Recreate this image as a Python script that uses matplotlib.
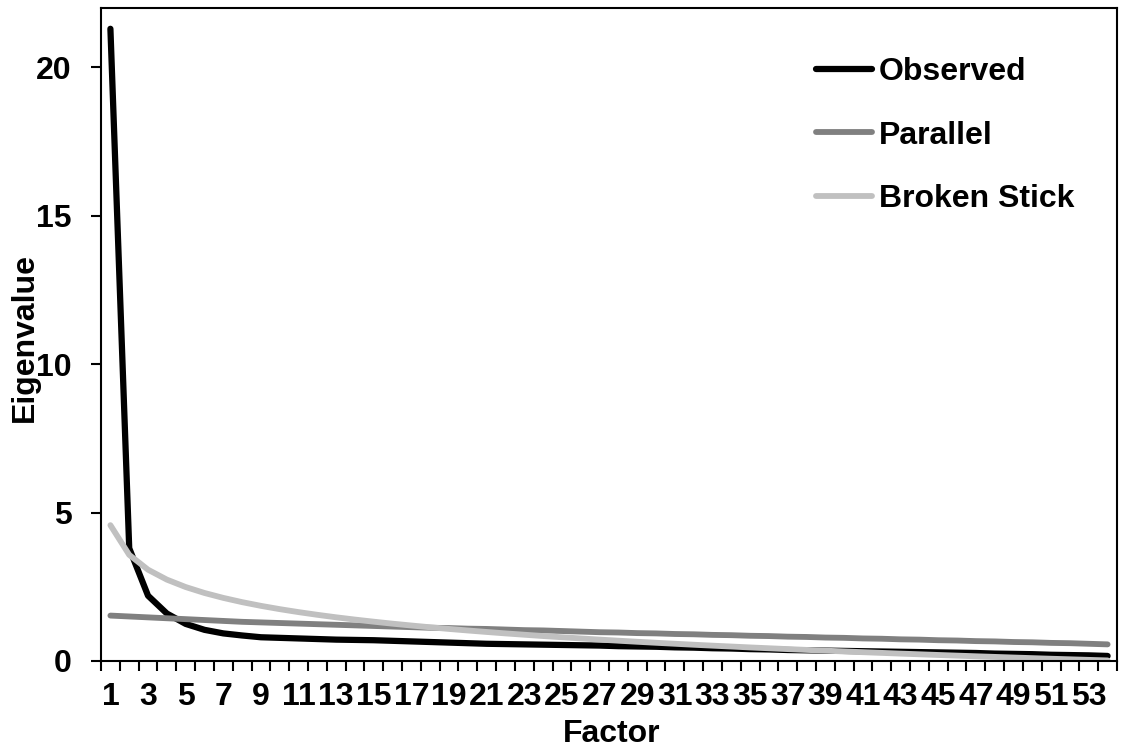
import matplotlib
matplotlib.use('Agg')
import matplotlib.pyplot as plt

plt.rcParams['font.family'] = ['Liberation Sans', 'DejaVu Sans']
plt.rcParams['font.weight'] = 'bold'

# factor numbers and eigenvalues
factors = list(range(1, 55))
observed = [21.3, 3.8, 2.2, 1.6, 1.25, 1.05, 0.93, 0.86, 0.80, 0.78,
            0.76, 0.74, 0.72, 0.71, 0.70, 0.68, 0.66, 0.64, 0.62, 0.60,
            0.58, 0.57, 0.56, 0.55, 0.54, 0.53, 0.52, 0.50, 0.49, 0.48,
            0.46, 0.45, 0.43, 0.42, 0.40, 0.39, 0.37, 0.36, 0.35, 0.34,
            0.33, 0.32, 0.31, 0.30, 0.29, 0.28, 0.27, 0.25, 0.24, 0.23,
            0.21, 0.20, 0.19, 0.17]
parallel = [1.53, 1.50, 1.47, 1.44, 1.41, 1.38, 1.35, 1.32, 1.30, 1.28,
            1.26, 1.24, 1.22, 1.20, 1.18, 1.16, 1.14, 1.12, 1.11, 1.09,
            1.08, 1.06, 1.04, 1.03, 1.01, 0.99, 0.97, 0.96, 0.94, 0.93,
            0.91, 0.90, 0.88, 0.87, 0.85, 0.84, 0.82, 0.81, 0.79, 0.78,
            0.76, 0.75, 0.73, 0.72, 0.70, 0.69, 0.67, 0.66, 0.64, 0.63,
            0.61, 0.60, 0.58, 0.56]
broken_stick = [4.576, 3.576, 3.076, 2.742, 2.492, 2.292, 2.126, 1.983, 1.858, 1.747,
                1.647, 1.556, 1.472, 1.395, 1.324, 1.257, 1.195, 1.136, 1.080, 1.028,
                0.978, 0.930, 0.885, 0.841, 0.800, 0.760, 0.721, 0.684, 0.648, 0.614,
                0.581, 0.548, 0.517, 0.487, 0.457, 0.429, 0.401, 0.374, 0.348, 0.322,
                0.297, 0.273, 0.249, 0.226, 0.203, 0.181, 0.159, 0.138, 0.117, 0.096,
                0.076, 0.057, 0.038, 0.019]
y_ticks = [0, 5, 10, 15, 20]

FS = 23

fig = plt.figure(figsize=(11.25, 7.48), dpi=100)
ax = fig.add_axes([101 / 1125, 1 - 661 / 748, 1016 / 1125, 653 / 748])

ax.plot(factors, observed, color='black', lw=4.5, solid_capstyle='round', label='Observed')
ax.plot(factors, parallel, color='#808080', lw=4.2, solid_capstyle='round', label='Parallel')
ax.plot(factors, broken_stick, color='#c0c0c0', lw=4.2, solid_capstyle='round', label='Broken Stick')

ax.set_xlim(0.5, 54.5)
ax.set_ylim(0, 22)

# category axis: ticks between categories, labels on every other category
ax.set_xticks([f + 0.5 for f in range(0, 55)])
ax.set_xticklabels([])
ax.set_xticks(factors[::2], minor=True)
ax.set_xticklabels([str(f) for f in factors[::2]], minor=True, fontsize=FS, fontweight='bold')
ax.tick_params(axis='x', which='major', direction='out', length=7, width=1.5)
ax.tick_params(axis='x', which='minor', length=0, pad=15)

ax.set_yticks(y_ticks)
ax.set_yticklabels([str(v) for v in y_ticks], fontsize=FS, fontweight='bold')
ax.tick_params(axis='y', direction='out', length=7, width=1.5, pad=14)

for s in ax.spines.values():
    s.set_linewidth(1.5)

fig.text(612 / 1125, 14 / 748, 'Factor', ha='center', va='center', fontsize=FS, fontweight='bold')
fig.text(25 / 1125, 1 - 337 / 748, 'Eigenvalue', ha='center', va='center', rotation=90,
         fontsize=FS, fontweight='bold')

ax.legend(loc='upper left', bbox_to_anchor=(816 / 1125, 1 - 57 / 748), bbox_transform=fig.transFigure,
          frameon=False, handlelength=1.75, handletextpad=0.22, labelspacing=1.05,
          borderpad=0, borderaxespad=0, prop={'weight': 'bold', 'size': FS})

fig.savefig('out.png', dpi=100)
